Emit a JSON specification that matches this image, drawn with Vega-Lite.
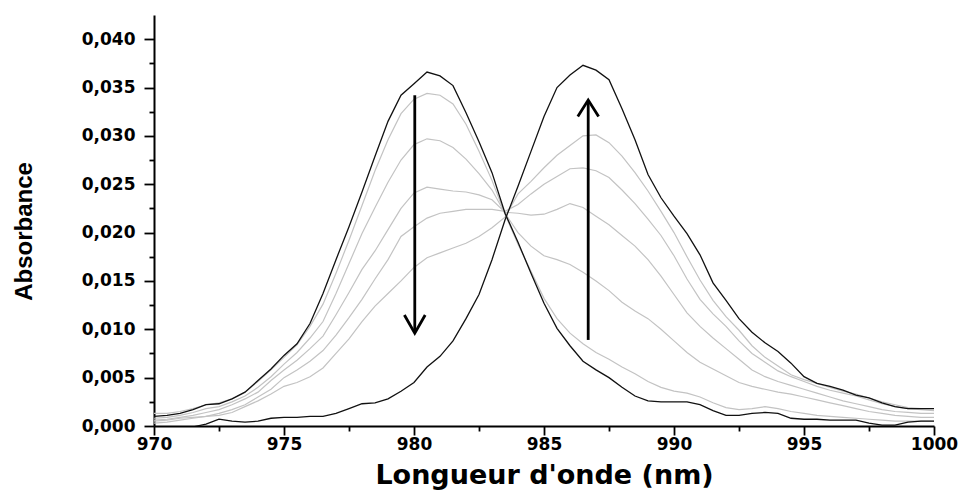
{
  "$schema": "https://vega.github.io/schema/vega-lite/v6.json",
  "width": 780,
  "height": 411,
  "autosize": "none",
  "padding": {"left": 154, "top": 15, "right": 28, "bottom": 69},
  "background": "white",
  "config": {"view": {"stroke": null}},
  "datasets": {
    "spectra": [
      {"nm": 970, "A": 0.0010, "g1": 0.0013, "g2": 0.0008, "g3": 0.0006, "g4": 0.0005, "g5": 0.0003, "C": -0.0004},
      {"nm": 970.5, "A": 0.0011, "g1": 0.0013, "g2": 0.0009, "g3": 0.0007, "g4": 0.0006, "g5": 0.0004, "C": -0.0004},
      {"nm": 971, "A": 0.0013, "g1": 0.0015, "g2": 0.0011, "g3": 0.0009, "g4": 0.0008, "g5": 0.0006, "C": -0.0003},
      {"nm": 971.5, "A": 0.0017, "g1": 0.0018, "g2": 0.0014, "g3": 0.0011, "g4": 0.0009, "g5": 0.0008, "C": -0.0001},
      {"nm": 972, "A": 0.0022, "g1": 0.0022, "g2": 0.0018, "g3": 0.0014, "g4": 0.0010, "g5": 0.0010, "C": 0.0002},
      {"nm": 972.5, "A": 0.0023, "g1": 0.0024, "g2": 0.0020, "g3": 0.0017, "g4": 0.0013, "g5": 0.0011, "C": 0.0007},
      {"nm": 973, "A": 0.0028, "g1": 0.0028, "g2": 0.0025, "g3": 0.0022, "g4": 0.0017, "g5": 0.0014, "C": 0.0005},
      {"nm": 973.5, "A": 0.0035, "g1": 0.0035, "g2": 0.0031, "g3": 0.0028, "g4": 0.0022, "g5": 0.0020, "C": 0.0004},
      {"nm": 974, "A": 0.0047, "g1": 0.0046, "g2": 0.0040, "g3": 0.0035, "g4": 0.0030, "g5": 0.0026, "C": 0.0005},
      {"nm": 974.5, "A": 0.0059, "g1": 0.0058, "g2": 0.0051, "g3": 0.0047, "g4": 0.0038, "g5": 0.0033, "C": 0.0008},
      {"nm": 975, "A": 0.0073, "g1": 0.0071, "g2": 0.0064, "g3": 0.0058, "g4": 0.0050, "g5": 0.0041, "C": 0.0009},
      {"nm": 975.5, "A": 0.0085, "g1": 0.0084, "g2": 0.0076, "g3": 0.0068, "g4": 0.0058, "g5": 0.0045, "C": 0.0009},
      {"nm": 976, "A": 0.0106, "g1": 0.0103, "g2": 0.0091, "g3": 0.0080, "g4": 0.0067, "g5": 0.0051, "C": 0.0010},
      {"nm": 976.5, "A": 0.0137, "g1": 0.0126, "g2": 0.0108, "g3": 0.0093, "g4": 0.0078, "g5": 0.0060, "C": 0.0010},
      {"nm": 977, "A": 0.0172, "g1": 0.0158, "g2": 0.0137, "g3": 0.0115, "g4": 0.0094, "g5": 0.0075, "C": 0.0013},
      {"nm": 977.5, "A": 0.0206, "g1": 0.0192, "g2": 0.0168, "g3": 0.0138, "g4": 0.0112, "g5": 0.0090, "C": 0.0018},
      {"nm": 978, "A": 0.0242, "g1": 0.0228, "g2": 0.0199, "g3": 0.0162, "g4": 0.0131, "g5": 0.0108, "C": 0.0023},
      {"nm": 978.5, "A": 0.0279, "g1": 0.0264, "g2": 0.0226, "g3": 0.0181, "g4": 0.0152, "g5": 0.0124, "C": 0.0024},
      {"nm": 979, "A": 0.0315, "g1": 0.0296, "g2": 0.0252, "g3": 0.0203, "g4": 0.0172, "g5": 0.0137, "C": 0.0028},
      {"nm": 979.5, "A": 0.0342, "g1": 0.0323, "g2": 0.0275, "g3": 0.0225, "g4": 0.0196, "g5": 0.0150, "C": 0.0036},
      {"nm": 980, "A": 0.0354, "g1": 0.0338, "g2": 0.0291, "g3": 0.0241, "g4": 0.0206, "g5": 0.0164, "C": 0.0045},
      {"nm": 980.5, "A": 0.0366, "g1": 0.0344, "g2": 0.0297, "g3": 0.0247, "g4": 0.0215, "g5": 0.0174, "C": 0.0061},
      {"nm": 981, "A": 0.0362, "g1": 0.0342, "g2": 0.0295, "g3": 0.0245, "g4": 0.0220, "g5": 0.0179, "C": 0.0072},
      {"nm": 981.5, "A": 0.0352, "g1": 0.0333, "g2": 0.0288, "g3": 0.0243, "g4": 0.0222, "g5": 0.0184, "C": 0.0088},
      {"nm": 982, "A": 0.0324, "g1": 0.0312, "g2": 0.0276, "g3": 0.0242, "g4": 0.0224, "g5": 0.0189, "C": 0.0111},
      {"nm": 982.5, "A": 0.0294, "g1": 0.0284, "g2": 0.0261, "g3": 0.0239, "g4": 0.0224, "g5": 0.0196, "C": 0.0136},
      {"nm": 983, "A": 0.0262, "g1": 0.0254, "g2": 0.0244, "g3": 0.0234, "g4": 0.0224, "g5": 0.0205, "C": 0.0172},
      {"nm": 983.5, "A": 0.0220, "g1": 0.0219, "g2": 0.0220, "g3": 0.0221, "g4": 0.0222, "g5": 0.0216, "C": 0.0213},
      {"nm": 984, "A": 0.0190, "g1": 0.0188, "g2": 0.0200, "g3": 0.0220, "g4": 0.0229, "g5": 0.0240, "C": 0.0248},
      {"nm": 984.5, "A": 0.0158, "g1": 0.0160, "g2": 0.0186, "g3": 0.0218, "g4": 0.0240, "g5": 0.0253, "C": 0.0284},
      {"nm": 985, "A": 0.0127, "g1": 0.0132, "g2": 0.0176, "g3": 0.0219, "g4": 0.0250, "g5": 0.0267, "C": 0.0320},
      {"nm": 985.5, "A": 0.0101, "g1": 0.0111, "g2": 0.0172, "g3": 0.0224, "g4": 0.0258, "g5": 0.0280, "C": 0.0350},
      {"nm": 986, "A": 0.0083, "g1": 0.0096, "g2": 0.0167, "g3": 0.0230, "g4": 0.0266, "g5": 0.0290, "C": 0.0363},
      {"nm": 986.5, "A": 0.0067, "g1": 0.0085, "g2": 0.0159, "g3": 0.0226, "g4": 0.0267, "g5": 0.0300, "C": 0.0373},
      {"nm": 987, "A": 0.0058, "g1": 0.0076, "g2": 0.0150, "g3": 0.0217, "g4": 0.0264, "g5": 0.0301, "C": 0.0368},
      {"nm": 987.5, "A": 0.0050, "g1": 0.0069, "g2": 0.0140, "g3": 0.0208, "g4": 0.0257, "g5": 0.0293, "C": 0.0358},
      {"nm": 988, "A": 0.0040, "g1": 0.0061, "g2": 0.0128, "g3": 0.0197, "g4": 0.0244, "g5": 0.0279, "C": 0.0328},
      {"nm": 988.5, "A": 0.0031, "g1": 0.0054, "g2": 0.0119, "g3": 0.0186, "g4": 0.0230, "g5": 0.0262, "C": 0.0296},
      {"nm": 989, "A": 0.0026, "g1": 0.0046, "g2": 0.0111, "g3": 0.0172, "g4": 0.0214, "g5": 0.0243, "C": 0.0260},
      {"nm": 989.5, "A": 0.0025, "g1": 0.0040, "g2": 0.0100, "g3": 0.0155, "g4": 0.0197, "g5": 0.0222, "C": 0.0236},
      {"nm": 990, "A": 0.0025, "g1": 0.0036, "g2": 0.0088, "g3": 0.0136, "g4": 0.0176, "g5": 0.0200, "C": 0.0217},
      {"nm": 990.5, "A": 0.0025, "g1": 0.0034, "g2": 0.0076, "g3": 0.0117, "g4": 0.0152, "g5": 0.0175, "C": 0.0199},
      {"nm": 991, "A": 0.0022, "g1": 0.0030, "g2": 0.0066, "g3": 0.0103, "g4": 0.0131, "g5": 0.0151, "C": 0.0177},
      {"nm": 991.5, "A": 0.0016, "g1": 0.0024, "g2": 0.0059, "g3": 0.0091, "g4": 0.0116, "g5": 0.0130, "C": 0.0148},
      {"nm": 992, "A": 0.0011, "g1": 0.0019, "g2": 0.0052, "g3": 0.0080, "g4": 0.0103, "g5": 0.0113, "C": 0.0130},
      {"nm": 992.5, "A": 0.0011, "g1": 0.0017, "g2": 0.0045, "g3": 0.0069, "g4": 0.0088, "g5": 0.0099, "C": 0.0111},
      {"nm": 993, "A": 0.0013, "g1": 0.0018, "g2": 0.0041, "g3": 0.0058, "g4": 0.0075, "g5": 0.0083, "C": 0.0097},
      {"nm": 993.5, "A": 0.0014, "g1": 0.0020, "g2": 0.0038, "g3": 0.0051, "g4": 0.0066, "g5": 0.0071, "C": 0.0086},
      {"nm": 994, "A": 0.0013, "g1": 0.0018, "g2": 0.0035, "g3": 0.0046, "g4": 0.0057, "g5": 0.0062, "C": 0.0077},
      {"nm": 994.5, "A": 0.0008, "g1": 0.0015, "g2": 0.0033, "g3": 0.0042, "g4": 0.0051, "g5": 0.0053, "C": 0.0065},
      {"nm": 995, "A": 0.0007, "g1": 0.0013, "g2": 0.0030, "g3": 0.0038, "g4": 0.0046, "g5": 0.0048, "C": 0.0051},
      {"nm": 995.5, "A": 0.0007, "g1": 0.0011, "g2": 0.0027, "g3": 0.0034, "g4": 0.0041, "g5": 0.0044, "C": 0.0044},
      {"nm": 996, "A": 0.0006, "g1": 0.0010, "g2": 0.0024, "g3": 0.0030, "g4": 0.0037, "g5": 0.0040, "C": 0.0041},
      {"nm": 996.5, "A": 0.0006, "g1": 0.0009, "g2": 0.0021, "g3": 0.0026, "g4": 0.0034, "g5": 0.0036, "C": 0.0037},
      {"nm": 997, "A": 0.0006, "g1": 0.0008, "g2": 0.0018, "g3": 0.0023, "g4": 0.0031, "g5": 0.0033, "C": 0.0032},
      {"nm": 997.5, "A": 0.0003, "g1": 0.0007, "g2": 0.0015, "g3": 0.0020, "g4": 0.0027, "g5": 0.0029, "C": 0.0029},
      {"nm": 998, "A": 0.0001, "g1": 0.0006, "g2": 0.0013, "g3": 0.0017, "g4": 0.0023, "g5": 0.0025, "C": 0.0024},
      {"nm": 998.5, "A": 0.0001, "g1": 0.0005, "g2": 0.0011, "g3": 0.0015, "g4": 0.0020, "g5": 0.0022, "C": 0.0020},
      {"nm": 999, "A": 0.0004, "g1": 0.0005, "g2": 0.0010, "g3": 0.0014, "g4": 0.0018, "g5": 0.0019, "C": 0.0018},
      {"nm": 999.5, "A": 0.0005, "g1": 0.0005, "g2": 0.0009, "g3": 0.0013, "g4": 0.0017, "g5": 0.0018, "C": 0.0018},
      {"nm": 1000, "A": 0.0005, "g1": 0.0005, "g2": 0.0009, "g3": 0.0013, "g4": 0.0016, "g5": 0.0018, "C": 0.0018}
    ],
    "arrows": [
      {"seg": "down_shaft", "o": 1, "nm": 980.03, "v": 0.0342},
      {"seg": "down_shaft", "o": 2, "nm": 980.03, "v": 0.0097},
      {"seg": "down_head", "o": 1, "nm": 979.63, "v": 0.01148},
      {"seg": "down_head", "o": 2, "nm": 980.03, "v": 0.00959},
      {"seg": "down_head", "o": 3, "nm": 980.43, "v": 0.01148},
      {"seg": "up_shaft", "o": 1, "nm": 986.7, "v": 0.0089},
      {"seg": "up_shaft", "o": 2, "nm": 986.7, "v": 0.0336},
      {"seg": "up_head", "o": 1, "nm": 986.3, "v": 0.0320},
      {"seg": "up_head", "o": 2, "nm": 986.7, "v": 0.0337},
      {"seg": "up_head", "o": 3, "nm": 987.1, "v": 0.0320}
    ]
  },
  "resolve": {"axis": {"x": "independent", "y": "independent"}},
  "layer": [
    {
      "data": {"name": "spectra"},
      "transform": [{"fold": ["g1", "g2", "g3", "g4", "g5"], "as": ["s", "v"]}],
      "mark": {"type": "line", "color": "#c3c3c3", "strokeWidth": 1.2, "clip": true},
      "encoding": {
        "detail": {"field": "s"},
        "x": {
          "field": "nm",
          "type": "quantitative",
          "scale": {"domain": [970, 1000], "nice": false, "zero": false},
          "axis": {
            "orient": "bottom",
            "title": "Longueur d'onde (nm)",
            "values": [970, 975, 980, 985, 990, 995, 1000],
            "labelExpr": "format(datum.value, 'd')",
            "grid": false,
            "domainColor": "black",
            "domainWidth": 2,
            "tickColor": "black",
            "tickWidth": 1.8,
            "tickSize": 9,
            "labelFont": "DejaVu Sans",
            "labelFontWeight": "bold",
            "labelFontSize": 17,
            "labelColor": "black",
            "labelPadding": 1,
            "labelFlush": false,
            "titleFont": "DejaVu Sans",
            "titleFontWeight": "bold",
            "titleFontSize": 27,
            "titleColor": "black",
            "titleY": 57,
            "titleBaseline": "alphabetic"
          }
        },
        "y": {
          "field": "v",
          "type": "quantitative",
          "scale": {"domain": [0, 0.0425], "nice": false, "zero": true},
          "axis": {
            "orient": "left",
            "title": "Absorbance",
            "values": [0, 0.005, 0.01, 0.015, 0.02, 0.025, 0.03, 0.035, 0.04],
            "labelExpr": "replace(format(datum.value, '.3f'), '.', ',')",
            "grid": false,
            "domainColor": "black",
            "domainWidth": 2,
            "tickColor": "black",
            "tickWidth": 1.8,
            "tickSize": 10,
            "labelFont": "DejaVu Sans",
            "labelFontWeight": "bold",
            "labelFontSize": 17,
            "labelColor": "black",
            "labelPadding": 9,
            "labelFlush": false,
            "titleFont": "Liberation Sans",
            "titleFontWeight": "bold",
            "titleFontSize": 24,
            "titleColor": "black",
            "titleX": -130,
            "titleY": 216,
            "titleAlign": "center",
            "titleBaseline": "middle",
            "titleAngle": 270
          }
        }
      }
    },
    {
      "data": {"name": "spectra"},
      "transform": [{"fold": ["A", "C"], "as": ["s", "v"]}],
      "mark": {"type": "line", "color": "#111111", "strokeWidth": 1.3, "clip": true},
      "encoding": {
        "detail": {"field": "s"},
        "x": {"field": "nm", "type": "quantitative", "axis": null},
        "y": {"field": "v", "type": "quantitative", "axis": null}
      }
    },
    {
      "data": {"name": "arrows"},
      "mark": {"type": "line", "color": "black", "strokeWidth": 2.8, "strokeJoin": "miter", "clip": true},
      "encoding": {
        "detail": {"field": "seg"},
        "order": {"field": "o"},
        "x": {
          "field": "nm",
          "type": "quantitative",
          "axis": {
            "orient": "bottom",
            "title": null,
            "values": [972.5, 977.5, 982.5, 987.5, 992.5, 997.5],
            "labels": false,
            "domain": false,
            "grid": false,
            "tickColor": "black",
            "tickWidth": 1.8,
            "tickSize": 5
          }
        },
        "y": {
          "field": "v",
          "type": "quantitative",
          "axis": {
            "orient": "left",
            "title": null,
            "values": [0.0025, 0.0075, 0.0125, 0.0175, 0.0225, 0.0275, 0.0325, 0.0375],
            "labels": false,
            "domain": false,
            "grid": false,
            "tickColor": "black",
            "tickWidth": 1.8,
            "tickSize": 5
          }
        }
      }
    }
  ]
}
